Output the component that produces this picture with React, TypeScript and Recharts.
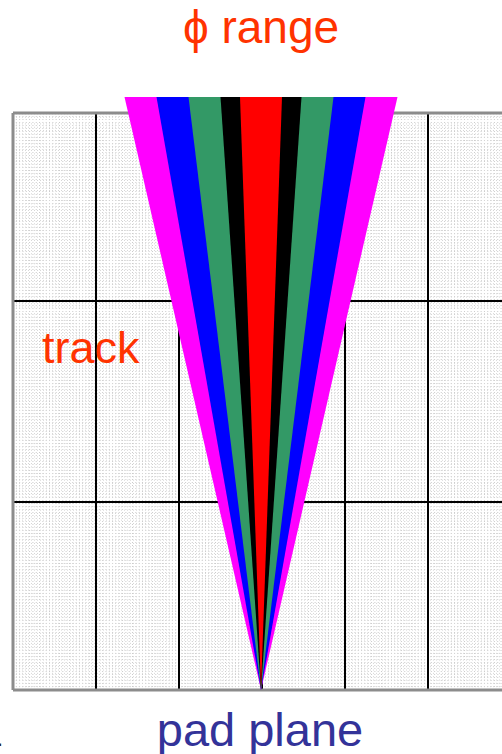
import { ComposedChart, Area, XAxis, YAxis, ReferenceLine } from "recharts";

// pad plane, in cm (1 cm = 100 px on screen)
const padColumnEdges = [0.83, 1.66, 2.49, 3.32, 4.15];
const padRowEdges = [1.88, 3.89];
const planeWidth = 4.98;
const planeHeight = 5.77;
const planeSpan = [{ w: 0 }, { w: planeWidth }];

// phi sectors fanning out from one point on the pad plane
const fanApexX = 2.48;
const fanTopY = 5.93;
const sectorNames = ["outer", "third", "second", "first", "center"];
const sectorColors = ["#ff00ff", "#0000ff", "#339966", "#000000", "#ff0000"];
const sectorHalfWidths = [1.365, 1.045, 0.725, 0.405, 0.21]; // at the top edge

const fanData = [
  { h: 0, ...Object.fromEntries(sectorNames.map((n) => [n, [fanApexX, fanApexX]])) },
  {
    h: fanTopY,
    ...Object.fromEntries(
      sectorNames.map((n, i) => [n, [fanApexX - sectorHalfWidths[i], fanApexX + sectorHalfWidths[i]]])
    ),
  },
];

// fine graph-paper texture under the pads (25 divisions per pad column)
const fineX = Array.from({ length: 149 }, (_, i) => i + 1)
  .filter((i) => i % 25 !== 0)
  .map((i) => +(i * 0.0332).toFixed(4));
const fineY = Array.from({ length: 173 }, (_, i) => i + 1)
  .filter((i) => i % 57 !== 0)
  .map((i) => +(i * 0.0333).toFixed(4));

const W = 520;
const H = 754;
const planeMargin = { top: 113, right: 9, bottom: 64, left: 13 };
const font = "'Liberation Sans', Arial, sans-serif";
const layer = { position: "absolute" as const, left: 0, top: 0 };

export default function App() {
  return (
    <div style={{ position: "absolute", left: 0, top: 0, width: 502, height: 754, overflow: "hidden", background: "#fff" }}>
      {/* graph paper and pads */}
      <div style={layer}>
        <ComposedChart width={W} height={H} data={planeSpan} margin={planeMargin}>
          <XAxis dataKey="w" type="number" domain={[0, planeWidth]} allowDataOverflow hide />
          <YAxis type="number" domain={[0, planeHeight]} allowDataOverflow hide />
          {fineX.map((v) => (
            <ReferenceLine key={"fx" + v} x={v} stroke="#cccccc" strokeDasharray="1 2" />
          ))}
          {fineY.map((v) => (
            <ReferenceLine key={"fy" + v} y={v} stroke="#d6d6d6" strokeDasharray="1 2" />
          ))}
          {padColumnEdges.map((v) => (
            <ReferenceLine key={"px" + v} x={v} stroke="#000" strokeWidth={2} />
          ))}
          {padRowEdges.map((v) => (
            <ReferenceLine key={"py" + v} y={v} stroke="#000" strokeWidth={2} />
          ))}
          <ReferenceLine key="bl" x={0} stroke="#8c8c8c" strokeWidth={3} />
          <ReferenceLine key="bb" y={0} stroke="#8c8c8c" strokeWidth={3} />
          <ReferenceLine key="bt" y={planeHeight} stroke="#8c8c8c" strokeWidth={3} />
        </ComposedChart>
      </div>

      {/* phi range fan */}
      <div style={layer}>
        <ComposedChart layout="vertical" width={W} height={H} data={fanData} margin={{ ...planeMargin, top: 97 }}>
          <XAxis type="number" domain={[0, planeWidth]} hide />
          <YAxis type="number" dataKey="h" domain={[0, fanTopY]} reversed hide />
          {sectorNames.map((n, i) => (
            <Area
              key={n}
              dataKey={n}
              type="linear"
              fill={sectorColors[i]}
              fillOpacity={1}
              stroke="none"
              dot={false}
              activeDot={false}
              isAnimationActive={false}
            />
          ))}
        </ComposedChart>
      </div>

      <svg width={502} height={754} style={{ ...layer, pointerEvents: "none" }}>
        <text x={261} y={43} textAnchor="middle" fontFamily={font} fontSize={46} fill="#ff3300">
          ϕ range
        </text>
        <text x={42} y={363} fontFamily={font} fontSize={45} fill="#ff3300">
          track
        </text>
        <text x={260} y={746} textAnchor="middle" fontFamily={font} fontSize={47} fill="#333399">
          pad plane
        </text>
        <text x={-18} y={752} fontFamily={font} fontSize={36} fill="#222">
          4
        </text>
      </svg>
    </div>
  );
}
